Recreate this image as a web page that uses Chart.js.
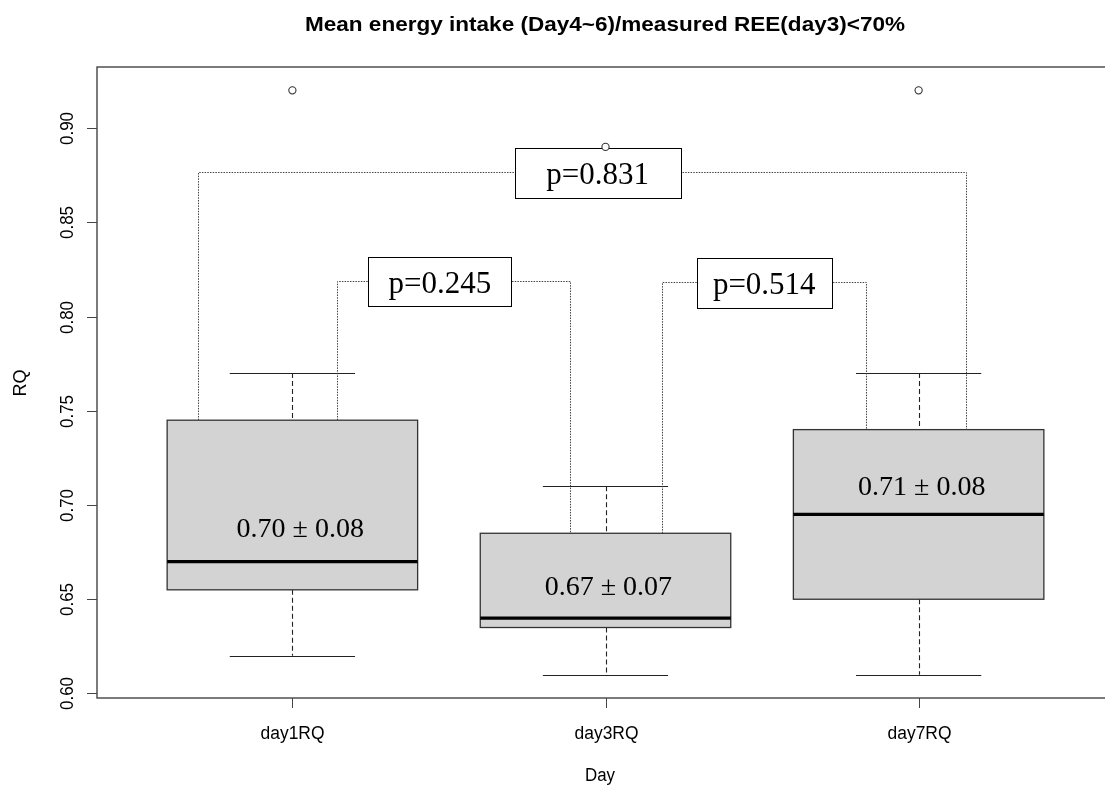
<!DOCTYPE html>
<html lang="en">
<head>
<meta charset="UTF-8">
<title>RQ by day</title>
<script src="https://cdn.jsdelivr.net/npm/chart.js"></script>
<style>
    html, body { margin: 0; padding: 0; background: #fff; overflow: hidden; }
    #wrap { width: 1105px; height: 787px; overflow: hidden; }
</style>
</head>
<body>
<div id="wrap"><canvas id="rqChart" width="1120" height="787"></canvas></div>
<script>
// box summaries per measurement day
var days = ['day1RQ', 'day3RQ', 'day7RQ'];
var whiskerLow = [0.62, 0.61, 0.61];
var lowerQuartile = [0.655, 0.635, 0.65];
var medians = [0.67, 0.64, 0.695];
var upperQuartile = [0.745, 0.685, 0.74];
var whiskerHigh = [0.77, 0.71, 0.77];
var outliers = [0.92, 0.89, 0.92];
var means = [0.70, 0.67, 0.71];
var sds = [0.08, 0.07, 0.08];
var yTicks = [0.60, 0.65, 0.70, 0.75, 0.80, 0.85, 0.90];

// pairwise comparisons (group numbers) and their p values
var pairFrom = [1, 2, 1];
var pairTo = [2, 3, 3];
var pValues = ['0.245', '0.514', '0.831'];

// where the annotations sit
var meanLabelY = [0.6832, 0.6522, 0.7053];
var meanLabelDx = [0.025, 0.009, 0.01];
var bracketLayout = [
    { left: 1.141, right: 1.886, top: 0.8188, labelX: 1.471, boxW: 143, boxH: 49 },
    { left: 2.182, right: 2.833, top: 0.8185, labelX: 2.507, boxW: 135, boxH: 50 },
    { left: 0.698, right: 3.150, top: 0.8765, labelX: 1.975, boxW: 166, boxH: 50 }
];

var SANS = '"Liberation Sans", Arial, sans-serif';
var SERIF = '"Liberation Serif", "Times New Roman", serif';

function drawText(ctx, str, x, y, font, align, rotate, width) {
    ctx.save();
    ctx.font = font;
    ctx.fillStyle = '#000';
    ctx.textAlign = align || 'center';
    ctx.textBaseline = 'alphabetic';
    ctx.translate(x, y);
    if (rotate) ctx.rotate(rotate);
    if (width) {
        var w = ctx.measureText(str).width;
        ctx.scale(width / w, 1);
    }
    ctx.fillText(str, 0, 0);
    ctx.restore();
}

var boxPlot = {
    id: 'boxPlot',
    beforeDatasetsDraw: function(chart) {
        var ctx = chart.ctx;
        var xs = chart.scales.x, ys = chart.scales.y;
        var px = function(v) { return xs.getPixelForValue(v); };
        var py = function(v) { return ys.getPixelForValue(v); };

        ctx.save();
        days.forEach(function(d, i) {
            var c = i + 1;
            var x0 = px(c - 0.4), x1 = px(c + 0.4);
            var cx = Math.round(px(c)) + 0.5;

            // whiskers
            ctx.strokeStyle = '#222';
            ctx.lineWidth = 1.1;
            ctx.setLineDash([5, 3]);
            ctx.beginPath();
            ctx.moveTo(cx, py(whiskerHigh[i]));
            ctx.lineTo(cx, py(upperQuartile[i]));
            ctx.moveTo(cx, py(lowerQuartile[i]));
            ctx.lineTo(cx, py(whiskerLow[i]));
            ctx.stroke();
            ctx.setLineDash([]);
            ctx.beginPath();
            ctx.moveTo(px(c - 0.2), Math.round(py(whiskerHigh[i])) + 0.5);
            ctx.lineTo(px(c + 0.2), Math.round(py(whiskerHigh[i])) + 0.5);
            ctx.moveTo(px(c - 0.2), Math.round(py(whiskerLow[i])) + 0.5);
            ctx.lineTo(px(c + 0.2), Math.round(py(whiskerLow[i])) + 0.5);
            ctx.stroke();

            // box
            var top = py(upperQuartile[i]), bottom = py(lowerQuartile[i]);
            ctx.fillStyle = '#d3d3d3';
            ctx.fillRect(x0, top, x1 - x0, bottom - top);
            ctx.strokeStyle = '#333';
            ctx.lineWidth = 1.3;
            ctx.strokeRect(x0, top, x1 - x0, bottom - top);

            // median
            ctx.strokeStyle = '#000';
            ctx.lineWidth = 3.2;
            ctx.beginPath();
            ctx.moveTo(x0, py(medians[i]));
            ctx.lineTo(x1, py(medians[i]));
            ctx.stroke();

            // mean ± sd
            drawText(ctx, means[i].toFixed(2) + ' \u00b1 ' + sds[i].toFixed(2),
                px(c + meanLabelDx[i]), py(meanLabelY[i]), '28px ' + SERIF);
        });

        // comparison brackets
        bracketLayout.forEach(function(b, k) {
            var yTop = Math.round(py(b.top)) + 0.5;
            var xl = Math.round(px(b.left)) + 0.5, xr = Math.round(px(b.right)) + 0.5;
            ctx.strokeStyle = '#444';
            ctx.lineWidth = 1;
            ctx.setLineDash([1.5, 1.2]);
            ctx.beginPath();
            ctx.moveTo(xl, py(upperQuartile[pairFrom[k] - 1]));
            ctx.lineTo(xl, yTop);
            ctx.lineTo(xr, yTop);
            ctx.lineTo(xr, py(upperQuartile[pairTo[k] - 1]));
            ctx.stroke();
            ctx.setLineDash([]);

            var lx = px(b.labelX);
            var bx = Math.round(lx - b.boxW / 2) + 0.5, by = Math.round(yTop - b.boxH / 2) + 0.5;
            ctx.fillStyle = '#fff';
            ctx.fillRect(bx, by, b.boxW, b.boxH);
            ctx.strokeStyle = '#000';
            ctx.lineWidth = 1;
            ctx.strokeRect(bx, by, b.boxW, b.boxH);
            drawText(ctx, 'p=' + pValues[k], lx, yTop + 11, '31px ' + SERIF);
        });
        ctx.restore();
    },
    afterDraw: function(chart) {
        var ctx = chart.ctx;
        var area = chart.chartArea;
        var xs = chart.scales.x, ys = chart.scales.y;

        ctx.save();
        // frame
        ctx.strokeStyle = '#444';
        ctx.lineWidth = 1.4;
        ctx.strokeRect(area.left, area.top, area.right - area.left, area.bottom - area.top);

        // y axis ticks
        ctx.lineWidth = 1;
        yTicks.forEach(function(t) {
            var y = Math.round(ys.getPixelForValue(t)) + 0.5;
            ctx.beginPath();
            ctx.moveTo(area.left - 10, y);
            ctx.lineTo(area.left, y);
            ctx.stroke();
            drawText(ctx, t.toFixed(2), 73, y, '18px ' + SANS, 'center', -Math.PI / 2, 33);
        });

        // x axis ticks
        days.forEach(function(d, i) {
            var x = Math.round(xs.getPixelForValue(i + 1)) + 0.5;
            ctx.beginPath();
            ctx.moveTo(x, area.bottom);
            ctx.lineTo(x, area.bottom + 10);
            ctx.stroke();
            drawText(ctx, d, x, 739, '18px ' + SANS, 'center', 0, 64);
        });
        ctx.restore();

        drawText(ctx, 'Day', 600, 781, '18px ' + SANS, 'center', 0, 30);
        drawText(ctx, 'RQ', 26, 383, '18px ' + SANS, 'center', -Math.PI / 2);
        drawText(ctx, 'Mean energy intake (Day4~6)/measured REE(day3)<70%', 605, 31,
            'bold 21px ' + SANS, 'center', 0, 600);
    }
};

var ctx = document.getElementById('rqChart').getContext('2d');
var rqChart = new Chart(ctx, {
    type: 'scatter',
    data: {
        datasets: [{
            label: 'outliers',
            data: outliers.map(function(v, i) { return { x: i + 1, y: v }; }),
            pointRadius: 3.6,
            pointBackgroundColor: '#fff',
            pointBorderColor: '#333',
            pointBorderWidth: 1.1
        }]
    },
    options: {
        responsive: false,
        animation: false,
        layout: {
            padding: { left: 97, top: 67, right: 6, bottom: 89 }
        },
        plugins: {
            legend: { display: false },
            tooltip: { enabled: false }
        },
        scales: {
            x: { type: 'linear', display: false, min: 0.376, max: 3.624 },
            y: { type: 'linear', display: false, min: 0.5976, max: 0.9324 }
        }
    },
    plugins: [boxPlot]
});
</script>
</body>
</html>
